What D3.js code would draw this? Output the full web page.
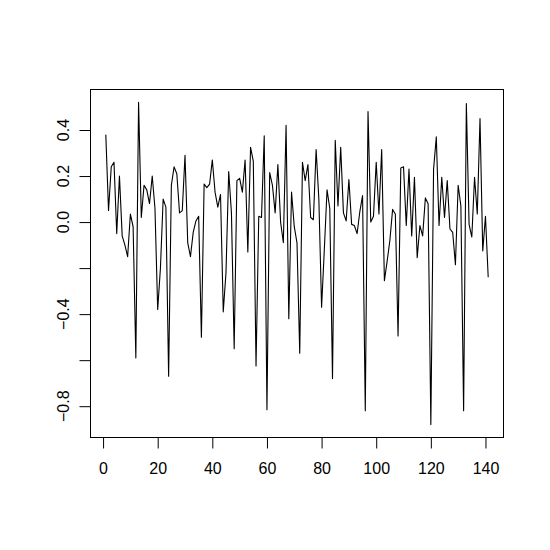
<!DOCTYPE html>
<html><head><meta charset="utf-8">
<script src="https://cdn.jsdelivr.net/npm/d3@7"></script>
<style>html,body{margin:0;padding:0;background:#fff;}</style>
</head><body>
<script>
const values = [0.38,0.05,0.24,0.26,-0.05,0.20,-0.06,-0.10,-0.15,0.035,
-0.02,-0.59,0.52,0.02,0.16,0.14,0.08,0.20,0.06,-0.38,
-0.20,0.10,0.065,-0.67,0.16,0.24,0.21,0.04,0.05,0.29,
-0.09,-0.15,-0.045,0.005,0.025,-0.50,0.165,0.15,0.165,0.27,
0.13,0.065,0.12,-0.39,-0.22,0.22,0.04,-0.55,0.18,0.19,
0.13,0.27,-0.13,0.325,0.265,-0.625,0.025,0.02,0.375,-0.815,
0.215,0.16,0.04,0.25,0.0,-0.09,0.42,-0.42,0.13,-0.02,
-0.09,-0.57,0.26,0.18,0.25,0.02,0.01,0.315,0.10,-0.37,
-0.12,0.14,0.06,-0.68,0.355,0.07,0.325,0.04,0.005,0.185,
-0.01,-0.015,-0.05,0.045,0.115,-0.82,0.48,0.0,0.025,0.26,
0.035,0.315,-0.255,-0.17,-0.08,0.055,0.035,-0.495,0.235,0.24,
-0.015,0.23,-0.06,0.195,-0.155,-0.015,-0.06,0.105,0.08,-0.88,
0.23,0.37,-0.015,0.195,0.02,0.18,-0.03,-0.045,-0.185,0.16,
0.07,-0.82,0.515,-0.01,-0.065,0.195,0.035,0.45,-0.125,0.025,-0.24];
const xTicks = [0,20,40,60,80,100,120,140];
const yTicks = [-0.8,-0.6,-0.4,-0.2,0.0,0.2,0.4];
const yLabelled = [-0.8,-0.4,0.0,0.2,0.4];

const W=550,H=550;
const box={l:90.5,r:503.5,t:89.5,b:437.5};
const svg=d3.select("body").append("svg").attr("width",W).attr("height",H)
  .style("font-family","'Liberation Sans',Arial,Helvetica,sans-serif");
svg.append("rect").attr("width",W).attr("height",H).attr("fill","#fff");

const n=values.length;
const xpad=(n-1)*0.04;
const x=d3.scaleLinear().domain([1-xpad,n+xpad]).range([box.l,box.r]);
const [ymin,ymax]=d3.extent(values);
const ypad=(ymax-ymin)*0.04;
const y=d3.scaleLinear().domain([ymin-ypad,ymax+ypad]).range([box.b,box.t]);

svg.append("path").datum(values)
  .attr("d",d3.line().x((d,i)=>x(i+1)).y(d=>y(d)))
  .attr("fill","none").attr("stroke","#000").attr("stroke-width",1.1)
  .attr("stroke-linejoin","round");

svg.append("rect").attr("x",box.l).attr("y",box.t)
  .attr("width",box.r-box.l).attr("height",box.b-box.t)
  .attr("fill","none").attr("stroke","#000").attr("stroke-width",1);

const fmt=v=>(v<0?"\u2212":"")+Math.abs(v).toFixed(1);

const xAxis=svg.append("g").attr("transform",`translate(0,${box.b})`)
  .call(d3.axisBottom(x).tickValues(xTicks).tickSize(11).tickPadding(14).tickFormat(d3.format("d")));
xAxis.select(".domain").attr("d",`M${x(0)},0H${x(140)}`).attr("stroke","#000");
xAxis.selectAll("text").attr("font-size",16).attr("fill","#000")
  .attr("font-family","'Liberation Sans',Arial,sans-serif");
xAxis.selectAll("line").attr("stroke","#000");

const yAxis=svg.append("g").attr("transform",`translate(${box.l},0)`)
  .call(d3.axisLeft(y).tickValues(yTicks).tickSize(11).tickFormat(""));
yAxis.select(".domain").attr("d",`M0,${y(-0.8)}V${y(0.4)}`).attr("stroke","#000");
yAxis.selectAll("line").attr("stroke","#000");

svg.append("g").selectAll("text").data(yLabelled).join("text")
  .attr("transform",d=>`translate(68.5,${y(d)}) rotate(-90)`)
  .attr("text-anchor","middle").attr("font-size",16).attr("fill","#000")
  .text(fmt);
</script>
</body></html>
